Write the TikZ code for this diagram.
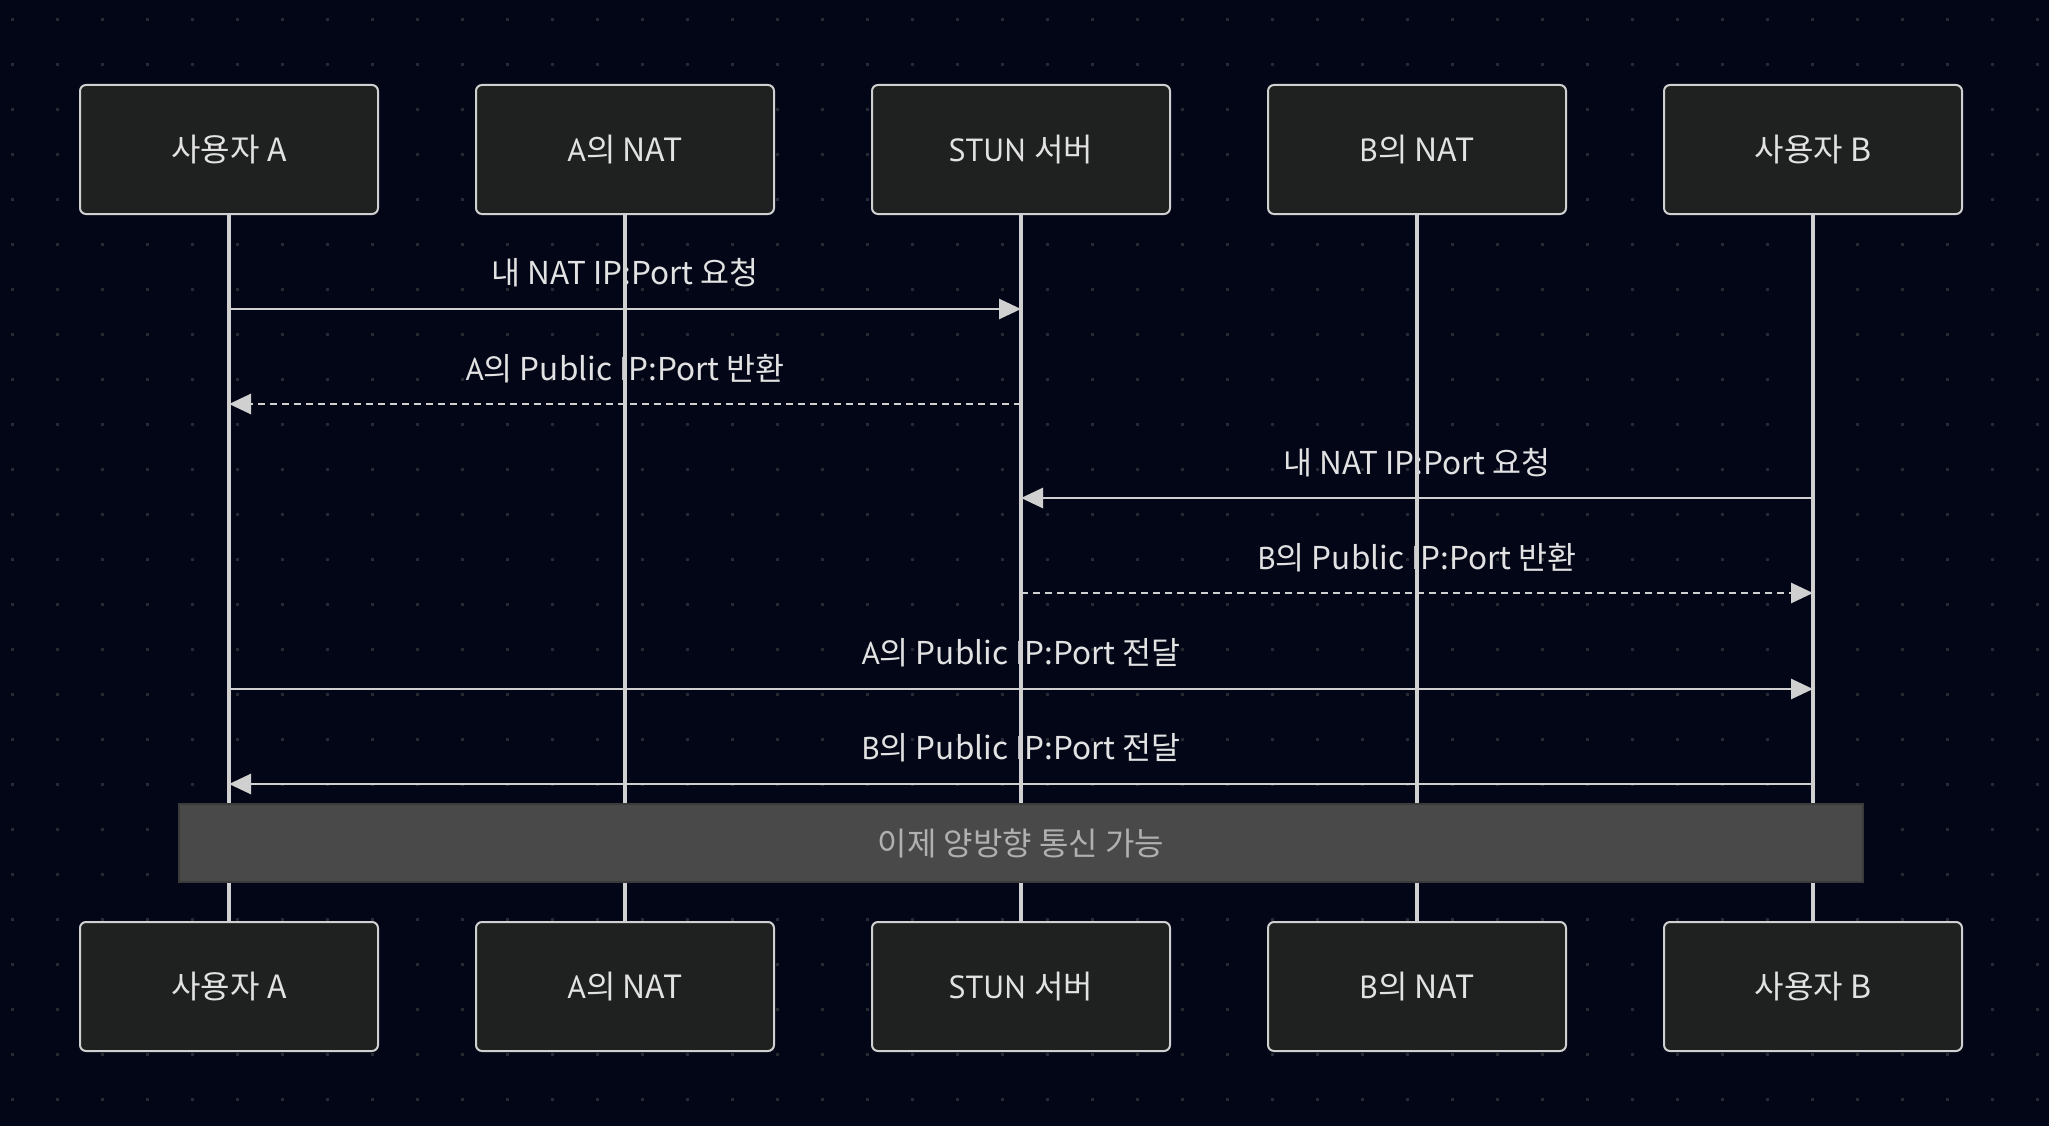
\documentclass[tikz,border=0pt]{standalone}
\usepackage{fontspec}
\setmainfont{PT Sans}
\newfontfamily\kr{Noto Sans CJK KR}
\usetikzlibrary{arrows.meta}
\definecolor{bgc}{HTML}{020617}
\definecolor{dotc}{HTML}{262A33}
\definecolor{boxfill}{HTML}{1F2020}
\definecolor{linec}{HTML}{D0D0D0}
\definecolor{txtc}{HTML}{E2E2E2}
\definecolor{notefill}{HTML}{484948}
\definecolor{notedraw}{HTML}{3A3B3A}
\definecolor{notetxt}{HTML}{B0B0B0}
\tikzset{
  actor/.style={draw=linec, fill=boxfill, line width=2pt, rounded corners=6pt,
    minimum width=298pt, minimum height=129pt, inner sep=0pt,
    text=txtc, font=\fontsize{32}{38}\selectfont},
  lifeline/.style={draw=linec, line width=3.2pt},
  msg/.style={draw=linec, line width=2.8pt, -{Triangle[length=22pt,width=20pt]}},
  reply/.style={msg, dash pattern=on 7pt off 5pt},
  lbl/.style={text=txtc, font=\fontsize{31.5}{37}\selectfont, inner sep=0pt},
  notebox/.style={draw=notedraw, fill=notefill, line width=2pt,
    minimum width=1684pt, minimum height=78pt, inner sep=0pt,
    text=notetxt, font=\fontsize{32}{38}\selectfont}
}
\begin{document}
\begin{tikzpicture}[x=1pt,y=-1pt]
\fill[bgc] (0,0) rectangle (2049,1126);
\useasboundingbox (0,0) rectangle (2049,1126);
\foreach \i in {0,...,45} {
  \foreach \j in {0,...,24} {
    \fill[dotc] ({11+45*\i},{18+45*\j}) rectangle ++(3,3);
  }
}
% top actors
\node[actor] (ta) at (229,149.5) {\kr{사용자} A};
\node[actor] (tna) at (625,149.5) {A\kr{의} NAT};
\node[actor] (ts) at (1021,149.5) {STUN \kr{서버}};
\node[actor] (tnb) at (1417,149.5) {B\kr{의} NAT};
\node[actor] (tb) at (1813,149.5) {\kr{사용자} B};
% bottom actors
\node[actor] (ba) at (229,986.5) {\kr{사용자} A};
\node[actor] (bna) at (625,986.5) {A\kr{의} NAT};
\node[actor] (bs) at (1021,986.5) {STUN \kr{서버}};
\node[actor] (bnb) at (1417,986.5) {B\kr{의} NAT};
\node[actor] (bb) at (1813,986.5) {\kr{사용자} B};
% labels
\node[lbl] (l1) at (625,273) {\kr{내} NAT IP:Port \kr{요청}};
\node[lbl] (l2) at (625,369) {A\kr{의} Public IP:Port \kr{반환}};
\node[lbl] (l3) at (1417,463) {\kr{내} NAT IP:Port \kr{요청}};
\node[lbl] (l4) at (1417,558) {B\kr{의} Public IP:Port \kr{반환}};
\node[lbl] (l5) at (1021,653) {A\kr{의} Public IP:Port \kr{전달}};
\node[lbl] (l6) at (1021,748) {B\kr{의} Public IP:Port \kr{전달}};
% lifelines
\foreach \t/\b in {ta/ba,tna/bna,ts/bs,tnb/bnb,tb/bb} {
  \draw[lifeline] (\t.south) -- (\b.north);
}
% message anchor points
\foreach \n/\y in {1/309,2/404,3/498,4/593,5/689,6/784} {
  \coordinate (a\n) at (229,\y);
  \coordinate (s\n) at (1021,\y);
  \coordinate (b\n) at (1813,\y);
}
\draw[msg] (a1) -- (s1);
\draw[reply] (s2) -- (a2);
\draw[msg] (b3) -- (s3);
\draw[reply] (s4) -- (b4);
\draw[msg] (a5) -- (b5);
\draw[msg] (b6) -- (a6);
% note
\node[notebox] (note) at (1021,843) {\kr{이제 양방향 통신 가능}};
\end{tikzpicture}
\end{document}
